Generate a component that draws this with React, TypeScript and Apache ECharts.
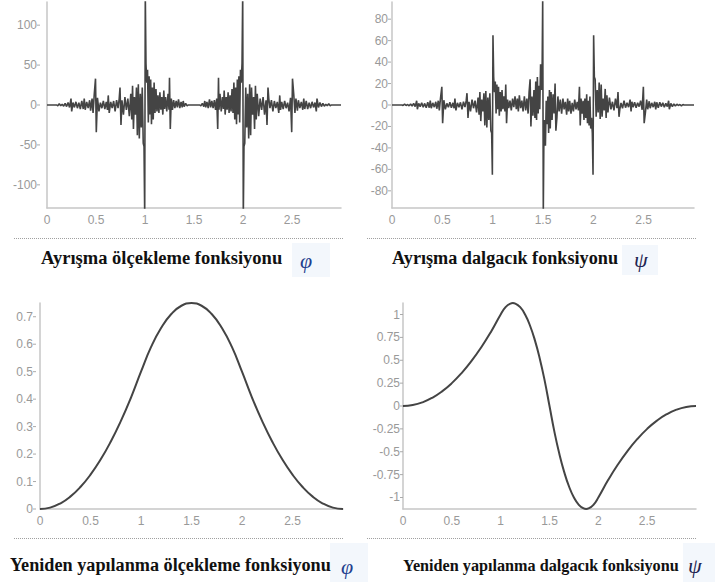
import React, { useEffect, useRef } from "react";
import * as echarts from "echarts";

// Decomposition scaling function (spiky), [x, y]
const phiDecPts: number[][] = [
  [0,0],[0.1,0],[0.11,-1],[0.125,1.5],[0.14,-1],[0.155,1],[0.17,-1.5],[0.185,2],[0.2,-2],[0.215,3],[0.23,-3],[0.245,8],[0.252,-8],[0.265,3],[0.28,-3],[0.295,4],[0.31,-4],[0.325,3],[0.34,-5],[0.355,5],[0.37,-5],[0.38,8],[0.39,-6],[0.405,4],[0.42,-4],[0.435,6],[0.445,-7],[0.46,8],[0.47,-10],[0.482,13],[0.495,33],[0.503,-34],[0.515,9],[0.53,-8],[0.545,3],[0.56,-4],[0.575,5],[0.59,-5],[0.605,4],[0.617,-6],[0.625,12],[0.635,-10],[0.65,4],[0.665,-4],[0.68,5],[0.695,-8],[0.71,6],[0.725,-4],[0.737,8],[0.745,22],[0.755,-25],[0.765,6],[0.78,-12],[0.795,10],[0.81,-6],[0.825,8],[0.84,-14],[0.855,14],[0.865,-18],[0.873,24],[0.882,-30],[0.892,10],[0.903,-12],[0.913,22],[0.922,-38],[0.932,26],[0.942,-42],[0.952,14],[0.962,-28],[0.972,22],[0.982,-48],[0.99,-52],[0.997,-140],[1.003,140],[1.01,52],[1.018,28],[1.026,44],[1.034,-22],[1.042,36],[1.05,-12],[1.058,32],[1.066,-24],[1.075,22],[1.084,-18],[1.093,28],[1.102,-10],[1.112,20],[1.122,-8],[1.132,12],[1.142,-10],[1.152,16],[1.162,-6],[1.172,10],[1.182,-12],[1.192,18],[1.2,-5],[1.21,10],[1.222,-8],[1.235,14],[1.245,-6],[1.25,34],[1.258,-30],[1.268,8],[1.28,-6],[1.292,6],[1.305,-4],[1.318,5],[1.33,-3],[1.342,7],[1.355,-4],[1.368,4],[1.38,-3],[1.39,5],[1.4,-2],[1.415,2],[1.43,-1],[1.44,0],[1.5,0],
  [1.56,0],[1.57,-1],[1.585,2],[1.6,-2],[1.61,5],[1.62,-3],[1.632,4],[1.645,-4],[1.658,7],[1.67,-3],[1.682,5],[1.695,-4],[1.708,6],[1.72,-6],[1.732,8],[1.742,-30],[1.75,34],[1.755,-6],[1.765,14],[1.778,-8],[1.79,10],[1.8,-5],[1.808,18],[1.818,-12],[1.828,10],[1.838,-6],[1.848,16],[1.858,-10],[1.868,12],[1.878,-8],[1.888,20],[1.898,-10],[1.907,28],[1.916,-18],[1.925,22],[1.934,-24],[1.942,32],[1.95,-12],[1.958,36],[1.966,-22],[1.974,44],[1.982,28],[1.99,52],[1.997,140],[2.003,-140],[2.01,-52],[2.018,-48],[2.028,22],[2.038,-28],[2.048,14],[2.058,-42],[2.068,26],[2.078,-38],[2.087,22],[2.097,-12],[2.108,10],[2.118,-30],[2.127,24],[2.135,-18],[2.145,14],[2.16,-14],[2.175,8],[2.19,-6],[2.205,10],[2.22,-12],[2.235,6],[2.245,-25],[2.255,22],[2.263,8],[2.275,-4],[2.29,6],[2.305,-8],[2.32,5],[2.335,-4],[2.35,4],[2.365,-10],[2.375,12],[2.383,-6],[2.395,4],[2.41,-5],[2.425,5],[2.44,-4],[2.455,3],[2.47,-8],[2.485,9],[2.497,-34],[2.505,33],[2.518,13],[2.53,-10],[2.54,8],[2.555,-7],[2.565,6],[2.58,-4],[2.595,4],[2.61,-6],[2.62,8],[2.63,-5],[2.645,5],[2.66,-5],[2.675,3],[2.69,-4],[2.705,4],[2.72,-3],[2.735,3],[2.748,-8],[2.755,8],[2.77,-3],[2.785,3],[2.8,-2],[2.815,2],[2.83,-1.5],[2.845,1],[2.86,-1],[2.875,1.5],[2.89,-1],[2.9,0],[3,0]
];

// Decomposition wavelet function (spiky), [x, y]
const psiDecPts: number[][] = [
  [0,0],[0.1,0],[0.11,-0.5],[0.125,0.8],[0.14,-0.5],[0.155,0.5],[0.17,-0.8],[0.185,1],[0.2,-1],[0.215,1.5],[0.23,-1.5],[0.245,4],[0.252,-4],[0.265,1.5],[0.28,-1.5],[0.295,2],[0.31,-2],[0.325,1.5],[0.34,-2.5],[0.355,2.5],[0.37,-2.5],[0.38,4],[0.39,-3],[0.405,2],[0.42,-2],[0.435,3],[0.445,-3.5],[0.46,4],[0.47,-5],[0.482,6.5],[0.495,17],[0.503,-17],[0.515,4.5],[0.53,-4],[0.545,1.5],[0.56,-2],[0.575,2.5],[0.59,-2.5],[0.605,2],[0.617,-3],[0.625,6],[0.635,-5],[0.65,2],[0.665,-2],[0.68,2.5],[0.695,-4],[0.71,3],[0.725,-2],[0.737,4],[0.745,11],[0.755,-12],[0.765,3],[0.78,-6],[0.795,5],[0.81,-3],[0.825,4],[0.84,-7],[0.855,7],[0.865,-9],[0.873,12],[0.882,-15],[0.892,5],[0.903,-6],[0.913,11],[0.922,-19],[0.932,13],[0.942,-21],[0.952,7],[0.962,-14],[0.972,11],[0.982,-24],[0.99,-26],[0.997,-65],
  [1.003,65],[1.01,26],[1.018,12],[1.026,22],[1.034,-8],[1.042,19],[1.05,-4],[1.058,17],[1.066,-10],[1.075,12],[1.084,-6],[1.093,14],[1.102,-4],[1.112,8],[1.122,-6],[1.13,19],[1.138,-17],[1.148,5],[1.16,-3],[1.172,4],[1.185,-5],[1.198,6],[1.21,-2],[1.222,8],[1.235,-4],[1.245,6],[1.255,-6],[1.265,9],[1.278,-3],[1.29,4],[1.302,-6],[1.315,8],[1.328,-5],[1.34,6],[1.352,-8],[1.362,12],[1.372,24],[1.38,-20],[1.39,8],[1.4,-10],[1.41,14],[1.42,-12],[1.428,22],[1.436,-14],[1.444,26],[1.452,-8],[1.46,18],[1.468,-4],[1.476,38],[1.484,14],[1.492,40],[1.497,100],
  [1.503,-100],[1.508,-40],[1.516,-14],[1.524,-38],[1.532,4],[1.54,-18],[1.548,8],[1.556,-26],[1.564,14],[1.572,-22],[1.58,12],[1.59,-14],[1.6,10],[1.61,-8],[1.62,20],[1.628,-24],[1.638,-12],[1.648,8],[1.66,-6],[1.672,5],[1.685,-8],[1.698,6],[1.71,-4],[1.722,3],[1.735,-9],[1.745,6],[1.755,-6],[1.765,4],[1.778,-8],[1.79,2],[1.802,-6],[1.815,5],[1.828,-4],[1.84,3],[1.852,-5],[1.862,17],[1.87,-19],[1.878,6],[1.888,-8],[1.898,4],[1.907,-14],[1.916,6],[1.925,-12],[1.934,10],[1.942,-17],[1.95,4],[1.958,-19],[1.966,8],[1.974,-22],[1.982,-12],[1.99,-26],[1.997,-65],
  [2.003,65],[2.01,26],[2.018,24],[2.028,-11],[2.038,14],[2.048,-7],[2.058,21],[2.068,-13],[2.078,19],[2.087,-11],[2.097,6],[2.108,-5],[2.118,15],[2.127,-12],[2.135,9],[2.145,-7],[2.16,7],[2.175,-4],[2.19,3],[2.205,-5],[2.22,6],[2.235,-3],[2.245,12],[2.255,-11],[2.263,-4],[2.275,2],[2.29,-3],[2.305,4],[2.32,-2.5],[2.335,2],[2.35,-2],[2.365,5],[2.375,-6],[2.383,3],[2.395,-2],[2.41,2.5],[2.425,-2.5],[2.44,2],[2.455,-1.5],[2.47,4],[2.485,-4.5],[2.497,17],[2.505,-17],[2.518,-6.5],[2.53,5],[2.54,-4],[2.555,3.5],[2.565,-3],[2.58,2],[2.595,-2],[2.61,3],[2.62,-4],[2.63,2.5],[2.645,-2.5],[2.66,2.5],[2.675,-1.5],[2.69,2],[2.705,-2],[2.72,1.5],[2.735,-1.5],[2.748,4],[2.755,-4],[2.77,1.5],[2.785,-1.5],[2.8,1],[2.815,-1],[2.83,0.8],[2.845,-0.5],[2.86,0.5],[2.875,-0.8],[2.89,0.5],[2.9,0],[3,0]
];

// Reconstruction scaling function
const phiRecX = [0,0.1,0.2,0.3,0.4,0.5,0.6,0.7,0.8,0.9,1,1.1,1.2,1.3,1.4,1.5,1.6,1.7,1.8,1.9,2,2.1,2.2,2.3,2.4,2.5,2.6,2.7,2.8,2.9,3];
const phiRecY = [0,0.005,0.02,0.045,0.08,0.125,0.18,0.245,0.32,0.405,0.5,0.59,0.66,0.71,0.74,0.75,0.74,0.71,0.66,0.59,0.5,0.405,0.32,0.245,0.18,0.125,0.08,0.045,0.02,0.005,0];

// Reconstruction wavelet function
const psiRecX = [0,0.1,0.2,0.3,0.4,0.5,0.6,0.7,0.8,0.9,1,1.05,1.1,1.125,1.15,1.2,1.25,1.3,1.35,1.4,1.45,1.5,1.55,1.6,1.65,1.7,1.75,1.8,1.85,1.875,1.9,1.95,2,2.1,2.2,2.3,2.4,2.5,2.6,2.7,2.8,2.9,3];
const psiRecY = [0,0.01,0.04,0.09,0.16,0.25,0.36,0.49,0.64,0.81,1,1.08,1.12,1.125,1.12,1.08,1,0.88,0.72,0.52,0.28,0,-0.28,-0.52,-0.72,-0.88,-1,-1.08,-1.12,-1.125,-1.12,-1.08,-1,-0.81,-0.64,-0.49,-0.36,-0.25,-0.16,-0.09,-0.04,-0.01,0];

const xTicks = [0, 0.5, 1, 1.5, 2, 2.5];
const yTicksTL = [-100, -50, 0, 50, 100];
const yTicksTR = [-80, -60, -40, -20, 0, 20, 40, 60, 80];
const yTicksBL = [0, 0.1, 0.2, 0.3, 0.4, 0.5, 0.6, 0.7];
const yTicksBR = [-1, -0.75, -0.5, -0.25, 0, 0.25, 0.5, 0.75, 1];

const captions = [
  "Ayrışma ölçekleme fonksiyonu",
  "Ayrışma dalgacık fonksiyonu",
  "Yeniden yapılanma ölçekleme fonksiyonu",
  "Yeniden yapılanma dalgacık fonksiyonu",
];
const symbols = ["φ", "ψ", "φ", "ψ"];

const LABEL_COLOR = "#999";
const AXIS_COLOR = "#c6c6c6";
const LINE_COLOR = "#444";
const SANS = "Liberation Sans";
const SERIF = "Liberation Serif";

function xAxisCfg(i: number) {
  return {
    type: "value", gridIndex: i, min: 0, max: 3,
    axisLine: { show: true, onZero: false, lineStyle: { color: AXIS_COLOR, width: 1.5 } },
    axisTick: { show: false },
    splitLine: { show: false },
    axisLabel: { customValues: xTicks, color: LABEL_COLOR, fontSize: 12, margin: 6, fontFamily: SANS },
  };
}

function yAxisCfg(i: number, min: number, max: number, ticks: number[], margin: number) {
  return {
    type: "value", gridIndex: i, min, max,
    axisLine: { show: true, onZero: false, lineStyle: { color: AXIS_COLOR, width: 1.5 } },
    axisTick: { show: false },
    splitLine: { show: false },
    axisLabel: {
      customValues: ticks,
      margin,
      formatter: (v: number) => `{a|${v}}{t|}`,
      rich: {
        a: { color: LABEL_COLOR, fontSize: 12, fontFamily: SANS },
        t: { width: 3, height: 1, backgroundColor: "#aaa", verticalAlign: "middle" },
      },
    },
  };
}

function lineSeries(i: number, data: number[][], width: number, smooth: boolean) {
  return {
    type: "line", xAxisIndex: i, yAxisIndex: i, data, showSymbol: false, symbol: "none",
    smooth, clip: true,
    lineStyle: { color: LINE_COLOR, width },
  };
}

function captionTitle(text: string, left: number, top: number, size: number) {
  return {
    text, left, top, padding: 0,
    textStyle: { fontFamily: SERIF, fontWeight: "bold", fontSize: size, color: "#111", lineHeight: 20 },
  };
}

function symbolTitle(text: string, left: number, top: number, color: string) {
  return {
    text, left, top, padding: 0,
    textStyle: { fontFamily: SERIF, fontStyle: "italic", fontWeight: "normal", fontSize: 22, color, lineHeight: 24 },
  };
}

export default function App() {
  const ref = useRef<HTMLDivElement>(null);
  useEffect(() => {
    if (!ref.current) return;
    const chart = echarts.init(ref.current, null, { renderer: "svg" });
    const box = (x: number, y: number, w: number, h: number) => ({
      type: "rect", shape: { x, y, width: w, height: h }, style: { fill: "#f3f7fc" }, z: -10,
    });
    const dotted = (x1: number, x2: number, y: number) => ({
      type: "line", shape: { x1, y1: y, x2, y2: y }, style: { stroke: "#a0a0a0", lineWidth: 1, lineDash: [1, 1] },
    });
    const option = {
      animation: false,
      backgroundColor: "#fff",
      title: [
        captionTitle(captions[0], 41, 248, 18.5),
        captionTitle(captions[1], 392, 248, 18.2),
        captionTitle(captions[2], 10, 555, 18.2),
        captionTitle(captions[3], 403, 556, 16.2),
        symbolTitle(symbols[0], 300, 248, "#1f3f8f"),
        symbolTitle(symbols[1], 634, 247, "#1d2550"),
        symbolTitle(symbols[2], 341, 554, "#1f3f8f"),
        symbolTitle(symbols[3], 688, 553, "#1d2550"),
      ],
      grid: [
        { left: 47, top: 2, width: 294, height: 206, outerBoundsMode: "none" },
        { left: 392, top: 2, width: 302, height: 206, outerBoundsMode: "none" },
        { left: 40, top: 303, width: 303, height: 206, outerBoundsMode: "none" },
        { left: 403, top: 303, width: 293, height: 206, outerBoundsMode: "none" },
      ],
      xAxis: [xAxisCfg(0), xAxisCfg(1), xAxisCfg(2), xAxisCfg(3)],
      yAxis: [
        yAxisCfg(0, -129, 129, yTicksTL, 7),
        yAxisCfg(1, -96, 96, yTicksTR, 1),
        yAxisCfg(2, 0, 0.75, yTicksBL, 4),
        yAxisCfg(3, -1.126, 1.126, yTicksBR, 0),
      ],
      series: [
        lineSeries(0, phiDecPts, 1.6, false),
        lineSeries(1, psiDecPts, 1.6, false),
        lineSeries(2, phiRecX.map((x, k) => [x, phiRecY[k]]), 2, true),
        lineSeries(3, psiRecX.map((x, k) => [x, psiRecY[k]]), 2, true),
      ],
      graphic: [
        dotted(14, 343, 238.5),
        dotted(367, 696, 238.5),
        dotted(14, 343, 538.5),
        dotted(367, 696, 538.5),
        box(292, 243, 38, 34),
        box(622, 245, 36, 30),
        box(330, 543, 38, 39),
        box(683, 543, 32, 39),
      ],
    };
    chart.setOption(option as any);
    return () => chart.dispose();
  }, []);
  return (
    <div
      ref={ref}
      style={{ position: "absolute", left: 0, top: 0, width: 715, height: 582, background: "#fff" }}
    />
  );
}
